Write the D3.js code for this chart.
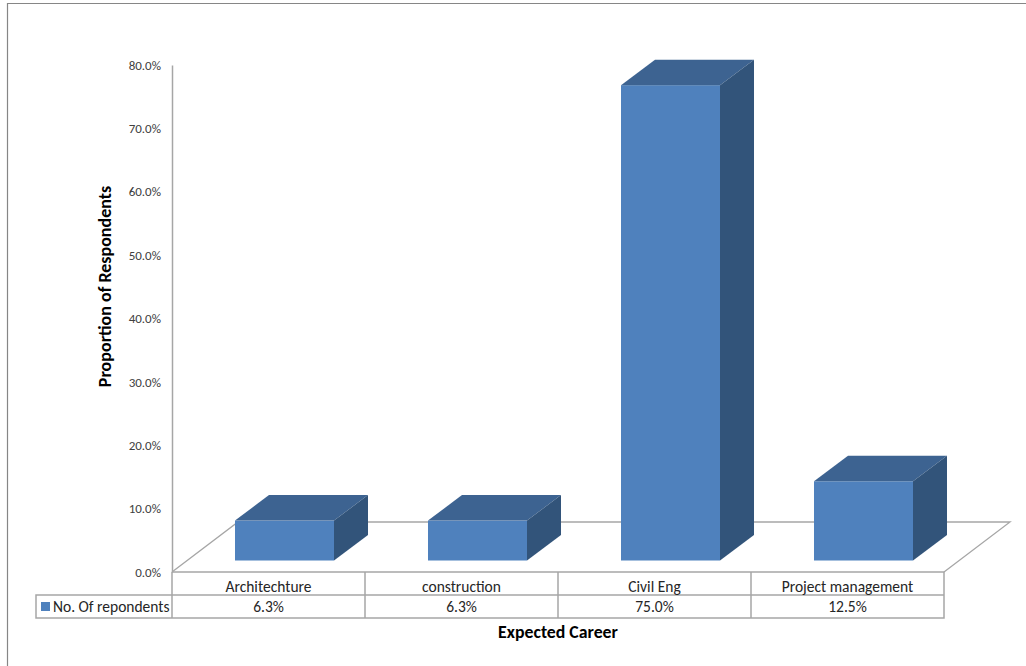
<!DOCTYPE html>
<html>
<head>
<meta charset="utf-8">
<title>Expected Career</title>
<script src="https://d3js.org/d3.v7.min.js"></script>
<style>
  html, body { margin: 0; padding: 0; background: #fff; }
  svg { display: block; }
  text { font-family: Carlito, Lato, "Open Sans", sans-serif; fill: #262626; }
</style>
</head>
<body>
<div id="viz"></div>
<script>
var careers = ['Architechture', 'construction', 'Civil Eng', 'Project management'],
    respondents = [6.3, 6.3, 75.0, 12.5],
    yTicks = [0, 10, 20, 30, 40, 50, 60, 70, 80],
    seriesName = 'No. Of repondents',
    xTitle = 'Expected Career',
    yTitle = 'Proportion of Respondents';

var width = 1026,
    height = 666,
    plot = { left: 172, right: 944, top: 65, bottom: 572 },
    rowHeight = 23,
    legendLeft = 36,
    depth = { x: 34, y: 25.5 },        // offset of a bar's back face
    floor = { x: 66, y: 50 },          // offset of the floor's back edge
    barShift = { x: 16, y: -11.5 };    // bars stand in the middle of the floor

var lineColor = '#a6a6a6',
    frameColor = '#868686',
    frontColor = '#4f81bd',
    topColor = '#3d6391',
    sideColor = '#32547a';

var percent = function(d) { return d3.format('.1f')(d) + '%'; };

var yScale = d3.scaleLinear()
    .domain([0, 80])
    .range([plot.bottom, plot.top]);

var xScale = d3.scaleBand()
    .domain(careers)
    .range([plot.left, plot.right])
    .paddingInner(.487)
    .paddingOuter(.2435);

var svg = d3.select('#viz').append('svg')
    .attr('width', width)
    .attr('height', height);

// outer chart frame, only the top and left edges show
svg.append('path')
    .attr('d', 'M7.5,' + height + 'V3.5H' + width)
    .attr('fill', 'none')
    .attr('stroke', frameColor)
    .attr('stroke-width', 1.2);

// floor of the 3d plot
svg.append('path')
    .attr('d', d3.line()([
      [plot.left, plot.bottom],
      [plot.left + floor.x, plot.bottom - floor.y],
      [plot.right + floor.x, plot.bottom - floor.y],
      [plot.right, plot.bottom]
    ]))
    .attr('fill', 'none')
    .attr('stroke', lineColor)
    .attr('stroke-width', 1.3);

// y axis, its line runs on down through the table
var yGuide = svg.append('g')
    .attr('transform', 'translate(' + plot.left + ',0)')
    .call(d3.axisLeft(yScale).tickValues(yTicks).tickFormat(percent).tickSize(0).tickPadding(11));

yGuide.select('.domain')
    .attr('stroke', lineColor)
    .attr('stroke-width', 1.5);

yGuide.selectAll('text')
    .attr('font-size', 13)
    .style('font-family', 'Carlito, Lato, "Open Sans", sans-serif')
    .style('fill', '#404040');

// bars: front, top and side faces
var bars = svg.selectAll('g.bar')
    .data(careers.map(function(c, i) { return { career: c, value: respondents[i] }; }))
    .enter().append('g')
      .attr('class', 'bar')
      .attr('transform', 'translate(' + barShift.x + ',' + barShift.y + ')');

bars.append('rect')
    .attr('fill', frontColor)
    .attr('x', function(d) { return xScale(d.career); })
    .attr('y', function(d) { return yScale(d.value); })
    .attr('width', xScale.bandwidth())
    .attr('height', function(d) { return yScale(0) - yScale(d.value); });

bars.append('path')
    .attr('fill', topColor)
    .attr('d', function(d) {
      var x0 = xScale(d.career), x1 = x0 + xScale.bandwidth(), y0 = yScale(d.value);
      return d3.line()([[x0, y0], [x0 + depth.x, y0 - depth.y], [x1 + depth.x, y0 - depth.y], [x1, y0]]) + 'Z';
    });

bars.append('path')
    .attr('fill', sideColor)
    .attr('d', function(d) {
      var x1 = xScale(d.career) + xScale.bandwidth(), y0 = yScale(d.value), yb = yScale(0);
      return d3.line()([[x1, y0], [x1 + depth.x, y0 - depth.y], [x1 + depth.x, yb - depth.y], [x1, yb]]) + 'Z';
    });

// data table below the plot
var table = svg.append('g')
    .attr('fill', 'none')
    .attr('stroke', lineColor)
    .attr('stroke-width', 1.5);

var rowTop = plot.bottom,
    rowMid = rowTop + rowHeight,
    rowEnd = rowMid + rowHeight;

table.append('path')
    .attr('d', 'M' + plot.left + ',' + rowTop + 'H' + plot.right + 'V' + rowEnd + 'H' + legendLeft
      + 'V' + rowMid + 'H' + plot.right + 'M' + plot.left + ',' + rowTop + 'V' + rowEnd);

table.selectAll('line')
    .data(careers.slice(1))
    .enter().append('line')
      .attr('x1', function(d) { return xScale.step() * careers.indexOf(d) + plot.left; })
      .attr('x2', function(d) { return xScale.step() * careers.indexOf(d) + plot.left; })
      .attr('y1', rowTop)
      .attr('y2', rowEnd);

svg.selectAll('text.career')
    .data(careers)
    .enter().append('text')
      .attr('class', 'career')
      .attr('x', function(d) { return xScale(d) + xScale.bandwidth() / 2; })
      .attr('y', rowTop + 20)
      .attr('text-anchor', 'middle')
      .attr('font-size', 15.5)
      .text(function(d) { return d; });

svg.selectAll('text.value')
    .data(respondents)
    .enter().append('text')
      .attr('class', 'value')
      .attr('x', function(d, i) { return xScale(careers[i]) + xScale.bandwidth() / 2; })
      .attr('y', rowMid + 17)
      .attr('text-anchor', 'middle')
      .attr('font-size', 15.5)
      .text(percent);

// legend key and series name in the first table column
svg.append('rect')
    .attr('x', 41)
    .attr('y', 602)
    .attr('width', 9)
    .attr('height', 9)
    .attr('fill', frontColor);

svg.append('text')
    .attr('x', 53)
    .attr('y', rowMid + 17)
    .attr('font-size', 15.5)
    .text(seriesName);

// axis titles
svg.append('text')
    .attr('x', 558)
    .attr('y', 638)
    .attr('text-anchor', 'middle')
    .attr('font-size', 17.8)
    .attr('font-weight', 'bold')
    .style('fill', '#000')
    .text(xTitle);

svg.append('text')
    .attr('transform', 'translate(111,286.5) rotate(-90)')
    .attr('text-anchor', 'middle')
    .attr('font-size', 18)
    .attr('font-weight', 'bold')
    .style('fill', '#000')
    .text(yTitle);
</script>
</body>
</html>
